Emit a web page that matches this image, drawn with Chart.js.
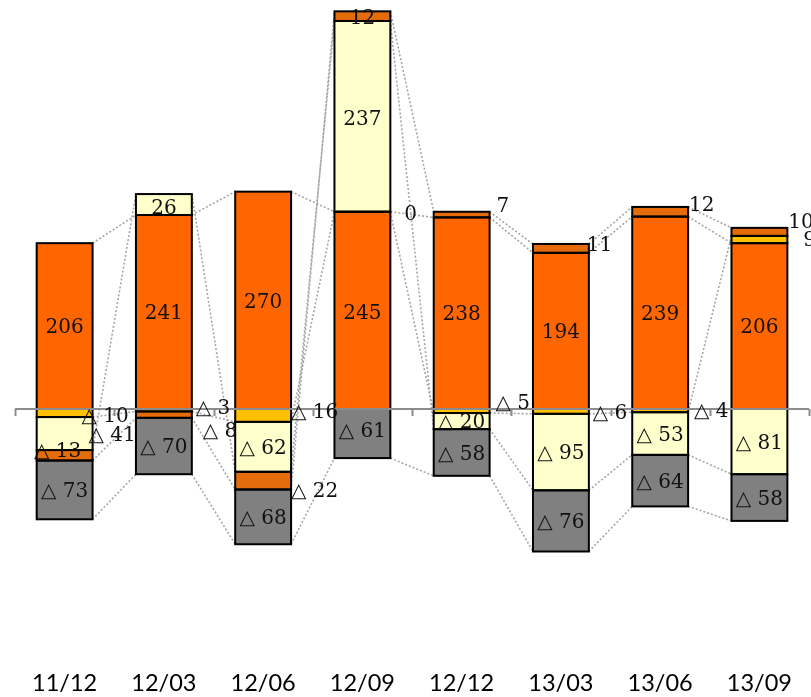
<!DOCTYPE html>
<html>
<head>
<meta charset="utf-8">
<script src="https://cdn.jsdelivr.net/npm/chart.js@4.4.0/dist/chart.umd.min.js"></script>
<style>
  html, body { margin: 0; padding: 0; background: #ffffff; }
  #c { display: block; }
</style>
</head>
<body>
<canvas id="c" width="811" height="697"></canvas>
<script>
// Quarter-end periods
const periods = ['11/12', '12/03', '12/06', '12/09', '12/12', '13/03', '13/06', '13/09'];

// Component values per period (negatives are shown with a △ prefix)
const mainValues   = [206, 241, 270, 245, 238, 194, 239, 206];
const goldValues   = [-10, -3, -16, 0, -5, -6, -4, 9];
const paleValues   = [-41, 26, -62, 237, -20, -95, -53, -81];
const amberValues  = [-13, -8, -22, 12, 7, 11, 12, 10];
const greyValues   = [-73, -70, -68, -61, -58, -76, -64, -58];

const seriesColors = ['#FF6600', '#FFC000', '#FFFFCC', '#E46C0A', '#808080'];

// Where a value label goes when it does not sit centred in its segment:
// 'r' = left-aligned just right of the bar, 'c' = centred; then x / y nudges.
const labelSpots = {
  '0:3': ['c', 0, 3],
  '2:3': ['c', 0, 3],
  '3:3': ['c', 0, 3],
  '4:3': ['c', 0, -2],
  '2:1': ['c', 0, 4],
  '1:0': ['r', -11, 4],
  '2:0': ['r', -4, 2],
  '3:0': ['c', -7, -3],
  '1:1': ['r', 4, -1],
  '3:1': ['r', 11, 17],
  '1:2': ['r', 0, -3],
  '3:2': ['r', 0, 11],
  '1:3': ['r', 14, 3],
  '3:4': ['r', 7, -8],
  '1:4': ['r', 6, -7],
  '3:5': ['r', -2, -3],
  '1:5': ['r', 4, 2],
  '3:6': ['r', 1, -6],
  '1:6': ['r', 6, 1],
  '3:7': ['r', 1, -9],
  '1:7': ['r', 16, 1]
};

function fmt(v) {
  return v < 0 ? '\u25B3 ' + (-v) : String(v);
}

// Dotted lines joining each series' segment ends across neighbouring bars
const seriesLines = {
  id: 'seriesLines',
  beforeDatasetsDraw(chart) {
    const ctx = chart.ctx;
    ctx.save();
    ctx.strokeStyle = '#A6A6A6';
    ctx.lineWidth = 1.6;
    ctx.setLineDash([2, 2]);
    chart.data.datasets.forEach((ds, d) => {
      const els = chart.getDatasetMeta(d).data;
      for (let i = 0; i < els.length - 1; i++) {
        const a = els[i], b = els[i + 1];
        ctx.beginPath();
        ctx.moveTo(a.x + a.width / 2, a.y);
        ctx.lineTo(b.x - b.width / 2, b.y);
        ctx.stroke();
      }
    });
    ctx.restore();
  }
};

// Segment outlines, the zero axis with its category ticks, and value labels
const overlay = {
  id: 'overlay',
  afterDatasetsDraw(chart) {
    const ctx = chart.ctx;
    const area = chart.chartArea;
    const yZero = chart.scales.y.getPixelForValue(0);

    ctx.save();
    ctx.strokeStyle = '#000000';
    ctx.lineWidth = 2;
    chart.data.datasets.forEach((ds, d) => {
      chart.getDatasetMeta(d).data.forEach((el) => {
        const top = Math.min(el.y, el.base);
        const h = Math.abs(el.y - el.base);
        ctx.strokeRect(el.x - el.width / 2, top, el.width, h);
      });
    });

    // zero axis
    ctx.strokeStyle = '#8C8C8C';
    ctx.lineWidth = 2;
    ctx.beginPath();
    ctx.moveTo(area.left, yZero);
    ctx.lineTo(area.right, yZero);
    const n = periods.length;
    const step = (area.right - area.left) / n;
    for (let k = 0; k <= n; k++) {
      const x = Math.round(area.left + k * step) + 0.5;
      ctx.moveTo(x, yZero);
      ctx.lineTo(x, yZero + 7);
    }
    ctx.stroke();

    // value labels
    ctx.fillStyle = '#111111';
    ctx.font = '20px "DejaVu Serif", serif';
    ctx.textBaseline = 'middle';
    chart.data.datasets.forEach((ds, d) => {
      chart.getDatasetMeta(d).data.forEach((el, i) => {
        const v = ds.data[i];
        const mid = (el.y + el.base) / 2;
        const spot = labelSpots[d + ':' + i];
        if (spot && spot[0] === 'r') {
          ctx.textAlign = 'left';
          ctx.fillText(fmt(v), el.x + el.width / 2 + spot[1], mid + spot[2]);
        } else {
          ctx.textAlign = 'center';
          const dx = spot ? spot[1] : 0;
          const dy = spot ? spot[2] : 2;
          ctx.fillText(fmt(v), el.x + dx, mid + dy);
        }
      });
    });
    ctx.restore();
  }
};

const valueSets = [mainValues, goldValues, paleValues, amberValues, greyValues];

new Chart(document.getElementById('c'), {
  type: 'bar',
  data: {
    labels: periods,
    datasets: valueSets.map((vals, k) => ({
      data: vals,
      backgroundColor: seriesColors[k],
      borderWidth: 0,
      categoryPercentage: 1,
      barPercentage: 0.563
    }))
  },
  options: {
    responsive: false,
    animation: false,
    layout: { padding: { left: 15, right: 0, top: 6.5, bottom: 0 } },
    plugins: { legend: { display: false }, tooltip: { enabled: false } },
    scales: {
      x: {
        stacked: true,
        grid: { display: false, drawTicks: false },
        border: { display: false },
        afterFit(scale) { scale.height = 46.5; },
        ticks: {
          padding: 19,
          color: '#000000',
          font: { family: 'Lato', size: 23.5 },
          maxRotation: 0,
          autoSkip: false
        }
      },
      y: {
        stacked: true,
        display: false,
        min: -300,
        max: 500
      }
    }
  },
  plugins: [seriesLines, overlay]
});
</script>
</body>
</html>
